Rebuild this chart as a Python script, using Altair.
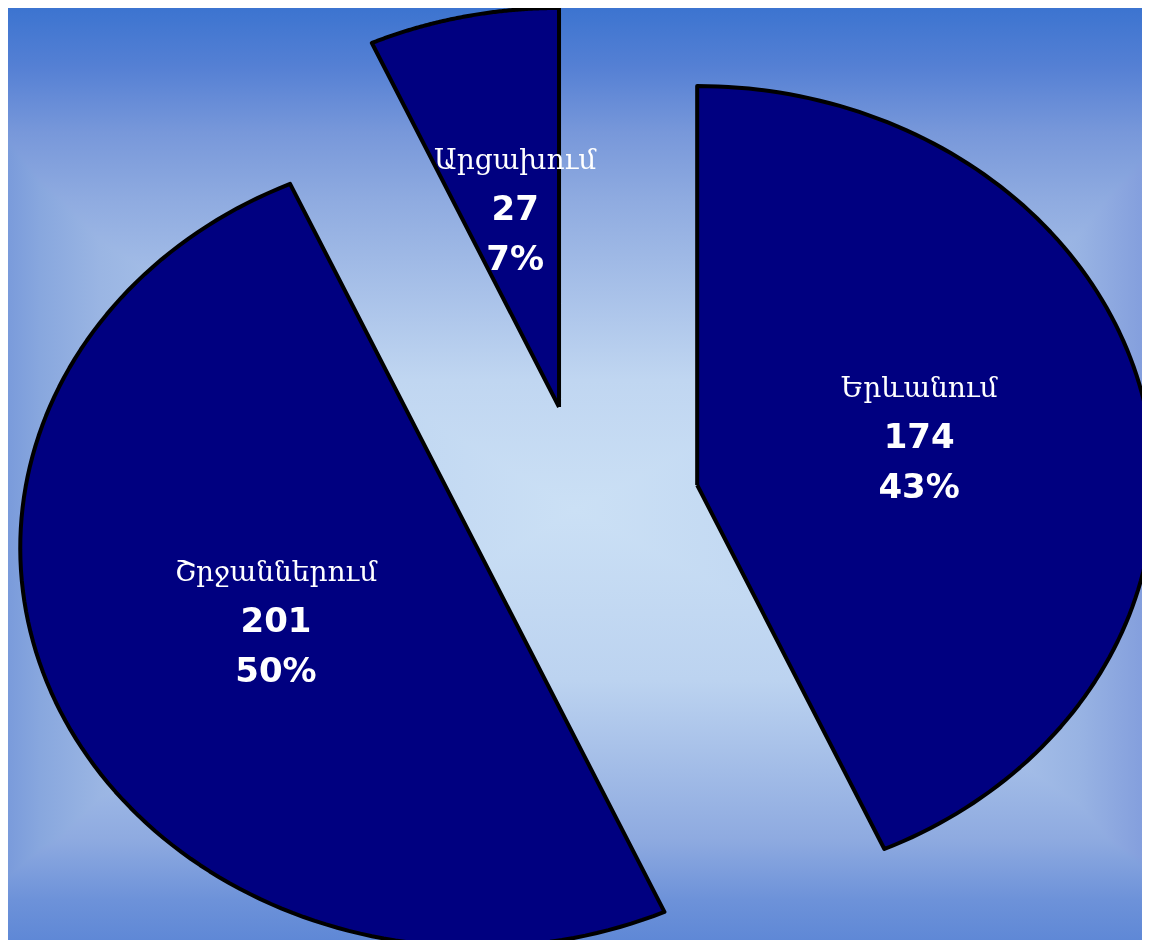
import altair as alt
import pandas as pd

# ---- data ----
names = ["Երևանում", "Շրջաններում", "Արցախում"]
values = [174, 201, 27]
percents = ["43%", "50%", "7%"]

df = pd.DataFrame({"name": names, "value": values, "pct": percents,
                   "idx": list(range(len(names)))})

# ---- layout constants (page pixels; the chart itself starts 8px in) ----
M = 8
W, H = 1134, 932
CX, CY = 583.4, 506.3      # pie centre on the page
RX, RY = 457.0, 399.0      # pie radii (pie is stretched horizontally)
EXPLODE = 0.2546           # explosion distance, radius units
LABEL_R = 0.49             # label distance from the slice apex, radius units
N = 120                    # points per arc

xscale = alt.Scale(domain=[(M - CX) / RX, (M + W - CX) / RX], nice=False, zero=False)
yscale = alt.Scale(domain=[(CY - M - H) / RY, (CY - M) / RY], nice=False, zero=False)

# ---- background: vertical ramp darkened by a horizontal ramp ----
vstops_px = [(0, "#3c74d0"), (67, "#5580d4"), (133, "#7898da"), (200, "#8fabe0"),
             (380, "#c0d6f1"), (510, "#cbe0f5"), (680, "#bcd3f0"), (840, "#8eaae0"),
             (900, "#6d92d9"), (948, "#5f88d6")]
hstops_px = [(0, "#7a9bdb"), (40, "#88a7de"), (100, "#9ab5e3"), (300, "#bcd3f0"),
             (575, "#cbe0f5"), (900, "#bcd3f0"), (1080, "#98b3e3"), (1150, "#849fdd")]


def stops(lst, size):
    out = []
    for p, c in lst:
        o = min(1.0, max(0.0, (p - M) / size))
        out.append(alt.GradientStop(offset=o, color=c))
    return out


vgrad = alt.Gradient(gradient="linear", x1=0, x2=0, y1=0, y2=1, stops=stops(vstops_px, H))
hgrad = alt.Gradient(gradient="linear", x1=0, x2=1, y1=0, y2=0, stops=stops(hstops_px, W))

bgdata = pd.DataFrame({"k": [0]})
bg_v = alt.Chart(bgdata).mark_rect(fill=vgrad, strokeWidth=0).encode(
    x=alt.value(0), x2=alt.value(W), y=alt.value(0), y2=alt.value(H))
bg_h = alt.Chart(bgdata).mark_rect(fill=hgrad, strokeWidth=0, blend="darken").encode(
    x=alt.value(0), x2=alt.value(W), y=alt.value(0), y2=alt.value(H))

# ---- pie geometry from the values ----
base = (
    alt.Chart(df)
    .transform_window(cum="sum(value)", sort=[alt.SortField("idx")], frame=[None, 0])
    .transform_joinaggregate(total="sum(value)")
    .transform_calculate(
        a0="2*PI*(datum.cum - datum.value)/datum.total",
        a1="2*PI*datum.cum/datum.total",
    )
    .transform_calculate(m="(datum.a0 + datum.a1)/2")
)

slices = (
    base.transform_calculate(pts=f"sequence(0, {N + 3})")
    .transform_flatten(["pts"], as_=["i"])
    .transform_calculate(
        t=f"datum.a0 + (datum.a1 - datum.a0) * clamp(datum.i - 1, 0, {N}) / {N}",
        apex=f"datum.i == 0 || datum.i == {N + 2}",
    )
    .transform_calculate(
        px=f"{EXPLODE}*sin(datum.m) + (datum.apex ? 0 : sin(datum.t))",
        py=f"{EXPLODE}*cos(datum.m) + (datum.apex ? 0 : cos(datum.t))",
    )
    .mark_line(filled=True, fill="#000080", stroke="#000000", strokeWidth=4,
               strokeJoin="round", clip=True)
    .encode(
        x=alt.X("px:Q", scale=xscale, axis=None),
        y=alt.Y("py:Q", scale=yscale, axis=None),
        detail="name:N",
        order=alt.Order("i:Q"),
    )
)

labels = base.transform_calculate(
    lx=f"({EXPLODE} + {LABEL_R})*sin(datum.m)",
    ly=f"({EXPLODE} + {LABEL_R})*cos(datum.m)",
)
lx = alt.X("lx:Q", scale=xscale, axis=None)
ly = alt.Y("ly:Q", scale=yscale, axis=None)

name_txt = labels.mark_text(font="DejaVu Serif", fontSize=28, color="white",
                            baseline="middle", align="center", dy=-55, dx=3).encode(
    x=lx, y=ly, text="name:N")
val_txt = labels.mark_text(font="DejaVu Sans", fontWeight="bold", fontSize=34,
                           color="white", baseline="middle", align="center", dy=-6, dx=3).encode(
    x=lx, y=ly, text="value:Q")
pct_txt = labels.mark_text(font="DejaVu Sans", fontWeight="bold", fontSize=34,
                           color="white", baseline="middle", align="center", dy=44, dx=3).encode(
    x=lx, y=ly, text="pct:N")

chart = (
    alt.layer(bg_v, bg_h, slices, name_txt, val_txt, pct_txt)
    .properties(width=W, height=H, padding=0,
                autosize=alt.AutoSizeParams(type="none"))
    .configure_view(strokeWidth=0)
)

chart.save("out.html", embed_options={"renderer": "svg", "actions": False})
